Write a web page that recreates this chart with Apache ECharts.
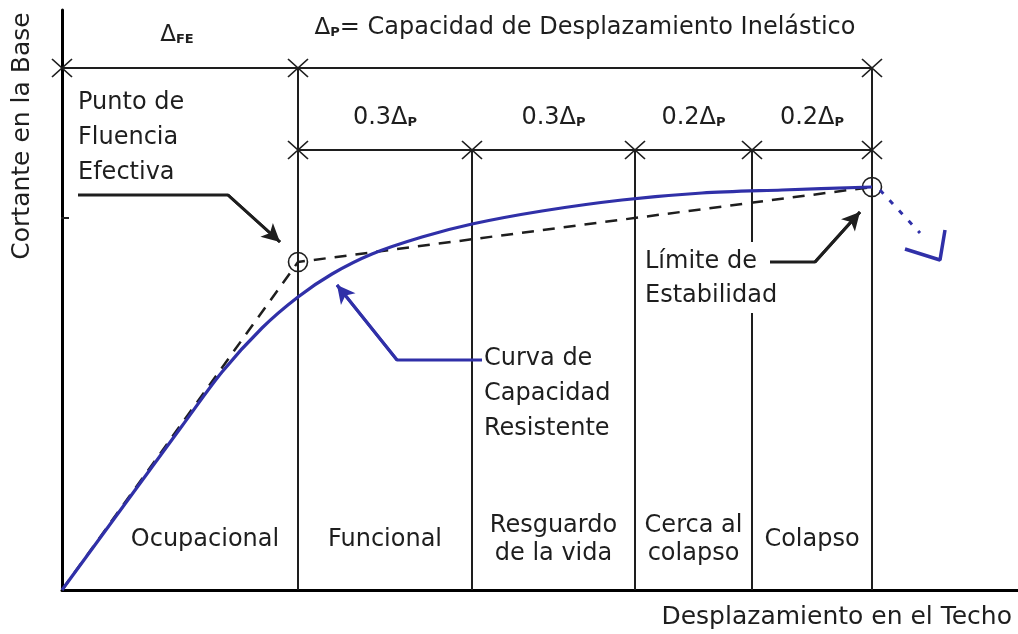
<!DOCTYPE html>
<html>
<head>
<meta charset="utf-8">
<script src="https://cdn.jsdelivr.net/npm/echarts@6/dist/echarts.min.js"></script>
<style>
html,body{margin:0;padding:0;background:#fff}
#main{width:1018px;height:634px}
</style>
</head>
<body>
<div id="main"></div>
<script>
// curva de capacidad (desplazamiento, cortante)
var curveX = [0, 60, 120, 160, 200, 236, 270, 310, 360, 410, 480, 560, 640, 720, 810];
var curveY = [0, 82, 164, 218, 262, 293, 316, 336, 353, 366, 379, 390, 397, 400, 403];

// idealizacion bilineal: origen, fluencia efectiva, limite de estabilidad
var bilinearX = [0, 236, 810];
var bilinearY = [0, 328, 403];

// rama descendente despues del colapso
var dropX = [818, 858];
var dropY = [400, 357];
var hookX = [843, 878, 883];
var hookY = [341, 330, 360];

// limites de los niveles de desempeno
var levelBounds = [0, 236, 410, 573, 690, 810];
var levelNames = ['Ocupacional', 'Funcional', 'Resguardo\nde la vida', 'Cerca al\ncolapso', 'Colapso'];
var fractions = ['0.3', '0.3', '0.2', '0.2'];

var yTick = 372;
var topDim = 522, subDim = 440;

var ink = '#1e1e1e';
var blue = '#3030a8';
var font = 'DejaVu Sans';

var dom = document.getElementById('main');
var chart = echarts.init(dom);

function seg(pts, color, width, type, extra) {
	var s = {
		type: 'line',
		data: pts,
		symbol: 'none',
		silent: true,
		animation: false,
		lineStyle: { color: color, width: width, type: type || 'solid' }
	};
	for (var k in extra) s[k] = extra[k];
	return s;
}

function zip(xs, ys) {
	return xs.map(function (x, i) { return [x, ys[i]]; });
}

function arrow(pts, color) {
	var n = pts.length;
	return seg(pts, color, 3, 'solid', {
		markLine: {
			silent: true,
			animation: false,
			symbol: ['none', 'arrow'],
			symbolSize: [14, 18],
			label: { show: false },
			lineStyle: { color: color, width: 3, type: 'solid' },
			data: [[{ coord: pts[n - 2] }, { coord: pts[n - 1] }]]
		}
	});
}

var series = [];

// lineas verticales de los niveles
series.push(seg([[236, 0], [236, topDim]], ink, 2));
series.push(seg([[810, 0], [810, topDim]], ink, 2));
series.push(seg([[410, 0], [410, subDim]], ink, 2));
series.push(seg([[573, 0], [573, subDim]], ink, 2));
series.push(seg([[690, subDim], [690, 348]], ink, 2));
series.push(seg([[690, 277], [690, 0]], ink, 2));
// cotas
series.push(seg([[0, topDim], [810, topDim]], ink, 2));
series.push(seg([[236, subDim], [810, subDim]], ink, 2));
// marca en el eje Y
series.push(seg([[-25, yTick], [7, yTick]], ink, 2, 'solid', { clip: false }));

// bilineal
series.push(seg(zip(bilinearX, bilinearY), ink, 2.5, [12, 9]));
// curva
series.push(seg(zip(curveX, curveY), blue, 3.2, 'solid', { smooth: 0.3 }));
series.push(seg(zip(dropX, dropY), blue, 3, [5, 9], { clip: false }));
series.push(seg(zip(hookX, hookY), blue, 3.5, 'solid', { clip: false }));

// flechas
series.push(arrow([[16, 395], [166, 395], [218, 348]], ink));
series.push(arrow([[420, 230], [335, 230], [275, 305]], blue));
series.push(arrow([[708, 328], [753, 328], [798, 378]], ink));

// marcas X en las cotas
var ticks = [[0, topDim], [236, topDim], [810, topDim]];
levelBounds.slice(1).forEach(function (x) { ticks.push([x, subDim]); });
series.push({
	type: 'scatter',
	data: ticks,
	symbol: 'path://M0,0L20,18M20,0L0,18',
	symbolSize: [20, 18],
	silent: true,
	animation: false,
	clip: false,
	itemStyle: { color: 'transparent', borderColor: ink, borderWidth: 1.6, opacity: 1 }
});

// circulos en fluencia y limite
series.push({
	type: 'scatter',
	data: [[bilinearX[1], bilinearY[1]], [bilinearX[2], bilinearY[2]]],
	symbol: 'circle',
	symbolSize: 19,
	silent: true,
	animation: false,
	itemStyle: { color: 'transparent', borderColor: ink, borderWidth: 1.6, opacity: 1 }
});

// textos
var rich = {
	d: { fontFamily: font, fontSize: 23, color: ink },
	s: { fontFamily: font, fontSize: 13, color: ink, fontWeight: 'bold', padding: [9, 0, 0, 0] },
	t: { fontFamily: font, fontSize: 24, color: ink }
};

var notes = [];
notes.push({ v: [115, 555], t: '{d|Δ}{s|FE}', a: 'center', va: 'middle' });
notes.push({ v: [523, 562], t: '{d|Δ}{s|P}{t|= Capacidad de Desplazamiento Inelástico}', a: 'center', va: 'middle' });
fractions.forEach(function (f, i) {
	var cx = (levelBounds[i + 1] + levelBounds[i + 2]) / 2;
	notes.push({ v: [cx, 472], t: '{t|' + f + 'Δ}{s|P}', a: 'center', va: 'middle' });
});
levelNames.forEach(function (n, i) {
	var cx = i === 0 ? 143 : (levelBounds[i] + levelBounds[i + 1]) / 2;
	notes.push({ v: [cx, 50], t: n, a: 'center', va: 'middle', lh: 28 });
});
notes.push({ v: [16, 505], t: 'Punto de\nFluencia\nEfectiva', a: 'left', va: 'top', lh: 35 });
notes.push({ v: [422, 249], t: 'Curva de\nCapacidad\nResistente', a: 'left', va: 'top', lh: 35 });
notes.push({ v: [583, 345], t: 'Límite de\nEstabilidad', a: 'left', va: 'top', lh: 34 });

series.push({
	type: 'scatter',
	symbolSize: 0,
	silent: true,
	animation: false,
	clip: false,
	itemStyle: { opacity: 1 },
	data: notes.map(function (n) {
		return {
			value: n.v,
			label: {
				show: true,
				position: 'inside',
				formatter: n.t,
				align: n.a,
				verticalAlign: n.va,
				lineHeight: n.lh || 28,
				fontFamily: font,
				fontSize: 24,
				color: ink,
				opacity: 1,
				rich: rich
			}
		};
	})
});

var option = {
	backgroundColor: '#fff',
	animation: false,
	grid: { left: 62, right: 0, top: 10, bottom: 44 },
	xAxis: {
		type: 'value',
		min: 0,
		max: 956,
		axisLine: { show: true, lineStyle: { color: '#000', width: 3 } },
		axisTick: { show: false },
		axisLabel: { show: false },
		splitLine: { show: false }
	},
	yAxis: {
		type: 'value',
		min: 0,
		max: 580,
		axisLine: { show: true, lineStyle: { color: '#000', width: 3 } },
		axisTick: { show: false },
		axisLabel: { show: false },
		splitLine: { show: false }
	},
	graphic: [
		{
			type: 'text',
			x: 22,
			y: 136,
			rotation: Math.PI / 2,
			style: { text: 'Cortante en la Base', font: '25px "DejaVu Sans"', fill: ink, align: 'center', verticalAlign: 'middle' }
		},
		{
			type: 'text',
			right: 6,
			top: 605,
			style: { text: 'Desplazamiento en el Techo', font: '25px "DejaVu Sans"', fill: ink }
		}
	],
	series: series
};

chart.setOption(option);
</script>
</body>
</html>
